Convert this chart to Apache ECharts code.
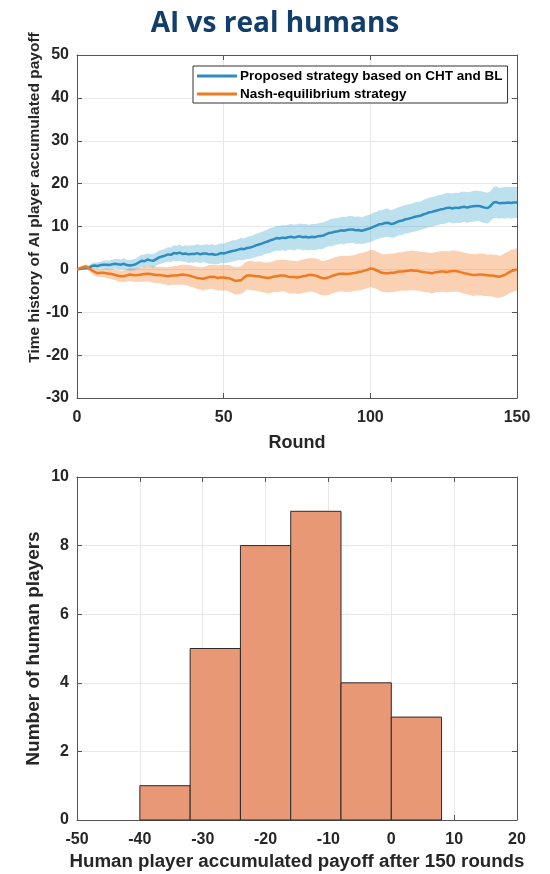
<!DOCTYPE html>
<html>
<head>
<meta charset="utf-8">
<script src="https://cdn.jsdelivr.net/npm/echarts@6/dist/echarts.min.js"></script>
<style>
  html, body { margin: 0; padding: 0; background: #ffffff; }
  #chart { width: 550px; height: 874px; }
</style>
</head>
<body>
<div id="chart"></div>
<script>
// Mean accumulated payoff of the AI player per round (0..150) and half-width of its shaded band
const blueMean = [
  0, 0.1, 0.2, 0.3, 0.3, 0.8, 0.9, 0.8, 1.0, 1.1,
  1.1, 1.0, 1.2, 1.3, 1.2, 1.1, 1.3, 1.0, 0.9, 1.0,
  1.2, 1.6, 2.0, 1.9, 2.3, 2.1, 2.0, 2.4, 2.8, 3.0,
  3.2, 3.5, 3.4, 3.8, 3.7, 3.9, 3.6, 3.7, 3.5, 3.6,
  3.6, 3.8, 3.5, 3.7, 3.7, 3.5, 3.6, 3.4, 3.5, 3.8,
  3.7, 3.9, 4.1, 4.3, 4.4, 4.6, 4.8, 4.7, 5.0, 5.1,
  5.3, 5.6, 5.8, 6.0, 6.3, 6.5, 6.8, 7.0, 7.3, 7.2,
  7.4, 7.3, 7.5, 7.6, 7.4, 7.6, 7.7, 7.5, 7.6, 7.4,
  7.6, 7.5, 7.7, 7.8, 7.9, 8.2, 8.5, 8.6, 8.8, 8.9,
  9.1, 9.0, 9.2, 9.3, 9.3, 9.1, 9.2, 9.0, 9.2, 9.4,
  9.6, 9.9, 10.2, 10.5, 10.6, 10.8, 10.9, 10.6, 10.7, 11.0,
  11.3, 11.4, 11.7, 11.8, 12.0, 12.2, 12.4, 12.5, 12.8, 13.0,
  13.3, 13.4, 13.6, 13.8, 14.0, 14.1, 14.3, 14.4, 14.2, 14.4,
  14.3, 14.5, 14.6, 14.4, 14.6, 14.7, 14.8, 14.8, 14.6, 14.4,
  14.3, 14.8, 15.6, 15.7, 15.4, 15.5, 15.5, 15.6, 15.5, 15.6,
  15.6
];
const blueHalf = [
  0.1, 0.2, 0.3, 0.4, 0.5, 0.6, 0.7, 0.8, 0.8, 0.9,
  1.0, 1.0, 1.1, 1.1, 1.2, 1.2, 1.3, 1.2, 1.3, 1.3,
  1.3, 1.4, 1.4, 1.5, 1.4, 1.5, 1.6, 1.5, 1.6, 1.6,
  1.6, 1.7, 1.7, 1.8, 1.8, 1.9, 1.8, 1.9, 2.0, 2.0,
  2.0, 2.1, 2.1, 2.0, 2.2, 2.2, 2.3, 2.2, 2.3, 2.3,
  2.3, 2.4, 2.4, 2.5, 2.4, 2.5, 2.6, 2.5, 2.6, 2.6,
  2.6, 2.7, 2.7, 2.8, 2.7, 2.8, 2.9, 2.8, 2.9, 2.9,
  2.9, 3.0, 2.9, 3.0, 3.0, 2.9, 3.0, 3.1, 3.0, 3.0,
  3.0, 3.1, 3.0, 3.1, 3.1, 3.0, 3.1, 3.2, 3.1, 3.1,
  3.1, 3.2, 3.1, 3.2, 3.1, 3.2, 3.2, 3.1, 3.2, 3.2,
  3.2, 3.3, 3.2, 3.3, 3.2, 3.3, 3.3, 3.2, 3.3, 3.3,
  3.3, 3.4, 3.3, 3.4, 3.3, 3.4, 3.4, 3.3, 3.4, 3.4,
  3.4, 3.5, 3.4, 3.5, 3.4, 3.5, 3.5, 3.4, 3.5, 3.5,
  3.5, 3.6, 3.5, 3.6, 3.5, 3.6, 3.6, 3.5, 3.6, 3.6,
  3.6, 3.5, 3.6, 3.7, 3.6, 3.6, 3.7, 3.6, 3.7, 3.6,
  3.6
];
// Same quantities for the Nash-equilibrium strategy
const orangeMean = [
  0, 0.3, 0.5, 0.7, 0.3, -0.2, -0.6, -0.9, -0.8, -0.8,
  -0.9, -1.0, -1.1, -1.3, -1.5, -1.6, -1.6, -1.4, -1.2, -1.3,
  -1.4, -1.3, -1.2, -1.1, -1.0, -1.1, -1.2, -1.3, -1.3, -1.4,
  -1.5, -1.6, -1.5, -1.4, -1.4, -1.3, -1.2, -1.3, -1.4, -1.6,
  -1.8, -2.0, -2.1, -2.2, -2.0, -1.8, -1.7, -1.8, -2.0, -1.9,
  -1.9, -2.0, -2.1, -2.4, -2.7, -2.6, -2.5, -1.9, -1.4, -1.4,
  -1.5, -1.6, -1.6, -1.8, -1.9, -2.0, -1.9, -1.7, -1.6, -1.5,
  -1.4, -1.5, -1.7, -1.8, -1.8, -1.9, -1.8, -1.6, -1.5, -1.3,
  -1.3, -1.4, -1.6, -1.9, -2.1, -2.0, -1.8, -1.5, -1.3, -1.1,
  -1.0, -1.0, -1.1, -1.0, -0.9, -0.8, -0.6, -0.5, -0.3, -0.1,
  0.2, 0.1, -0.2, -0.5, -0.8, -0.9, -0.9, -0.8, -0.8, -0.6,
  -0.5, -0.5, -0.4, -0.3, -0.2, -0.3, -0.3, -0.5, -0.6, -0.7,
  -0.8, -0.9, -0.7, -0.6, -0.5, -0.5, -0.6, -0.5, -0.4, -0.4,
  -0.5, -0.7, -0.9, -1.0, -1.2, -1.3, -1.3, -1.2, -1.2, -1.3,
  -1.4, -1.4, -1.5, -1.6, -1.7, -1.5, -1.2, -0.8, -0.4, -0.2,
  0.0
];
const orangeHalf = [
  0.1, 0.3, 0.4, 0.5, 0.6, 0.7, 0.8, 0.9, 0.9, 1.0,
  1.1, 1.1, 1.2, 1.2, 1.3, 1.3, 1.4, 1.4, 1.5, 1.5,
  1.6, 1.6, 1.7, 1.7, 1.8, 1.8, 1.9, 1.9, 1.9, 2.0,
  2.0, 2.1, 2.1, 2.2, 2.2, 2.3, 2.3, 2.4, 2.4, 2.5,
  2.5, 2.6, 2.6, 2.7, 2.7, 2.8, 2.8, 2.9, 2.9, 3.0,
  3.0, 3.0, 3.1, 3.1, 3.2, 3.2, 3.2, 3.3, 3.3, 3.4,
  3.4, 3.4, 3.5, 3.5, 3.5, 3.6, 3.6, 3.6, 3.7, 3.7,
  3.7, 3.7, 3.8, 3.8, 3.8, 3.8, 3.9, 3.9, 3.9, 3.9,
  3.9, 4.0, 4.0, 4.0, 4.0, 4.1, 4.1, 4.1, 4.1, 4.1,
  4.1, 4.2, 4.2, 4.2, 4.2, 4.2, 4.3, 4.3, 4.3, 4.3,
  4.3, 4.4, 4.4, 4.4, 4.4, 4.4, 4.5, 4.5, 4.5, 4.5,
  4.5, 4.5, 4.6, 4.6, 4.6, 4.6, 4.6, 4.6, 4.6, 4.7,
  4.6, 4.7, 4.7, 4.7, 4.7, 4.7, 4.8, 4.7, 4.8, 4.8,
  4.7, 4.8, 4.8, 4.8, 4.8, 4.9, 4.8, 4.9, 4.9, 4.9,
  4.8, 4.9, 4.9, 5.0, 4.9, 4.9, 5.0, 4.9, 5.0, 4.9,
  4.9
];

// Histogram of the human players' final payoff
const binEdges = [-40, -32, -24, -16, -8, 0, 8];
const binCounts = [1, 5, 8, 9, 4, 3];

const roundTicks = [0, 50, 100, 150];
const payoffTicks = [-50, -40, -30, -20, -10, 0, 10, 20];

const BLUE = '#2F8CBE';
const ORANGE = '#EF7A22';
const AXIS_COLOR = '#555555';
const TEXT_COLOR = '#262626';
const FONT = '"Liberation Sans", Arial, sans-serif';

const rounds = blueMean.map((_, i) => i);
const pairs = (arr) => arr.map((v, i) => [rounds[i], v]);

const tickLabel = { color: TEXT_COLOR, fontFamily: FONT, fontWeight: 'bold', fontSize: 16 };
const nameText = (size, extra) => Object.assign(
  { color: TEXT_COLOR, fontFamily: FONT, fontWeight: 'bold', fontSize: size }, extra || {});

function mainAxis(extra) {
  return Object.assign({
    type: 'value',
    nameMoveOverlap: false,
    axisLine: { show: true, onZero: false, lineStyle: { color: AXIS_COLOR, width: 1 } },
    axisTick: { show: true, inside: true, length: 5, lineStyle: { color: AXIS_COLOR } },
    axisLabel: tickLabel,
    splitLine: { show: true, lineStyle: { color: '#e8e8e8', width: 1 } }
  }, extra);
}
function mirrorAxis(extra) {
  return Object.assign({
    type: 'value',
    axisLine: { show: true, onZero: false, lineStyle: { color: AXIS_COLOR, width: 1 } },
    axisTick: { show: true, inside: true, length: 5, lineStyle: { color: AXIS_COLOR } },
    axisLabel: { show: false },
    splitLine: { show: false }
  }, extra);
}

// Shaded band (mean ± half-width) drawn as one polygon through the axis scales
function bandSeries(mean, half, color) {
  return {
    type: 'custom', xAxisIndex: 0, yAxisIndex: 0, silent: true, z: 1,
    data: rounds.map((r, i) => [r, mean[i] - half[i], mean[i] + half[i]]),
    encode: { x: 0, y: [1, 2] },
    renderItem: function (params, api) {
      if (params.dataIndex !== 0) return null;
      const pts = [];
      for (let i = 0; i < rounds.length; i++) pts.push(api.coord([rounds[i], mean[i] + half[i]]));
      for (let i = rounds.length - 1; i >= 0; i--) pts.push(api.coord([rounds[i], mean[i] - half[i]]));
      return { type: 'polygon', shape: { points: pts }, style: { fill: color } };
    }
  };
}

const histData = binCounts.map((c, i) => [binEdges[i], binEdges[i + 1], c]);

const option = {
  animation: false,
  backgroundColor: '#ffffff',
  title: {
    text: 'AI vs real humans',
    left: 'center', top: 5,
    textStyle: { fontFamily: '"Open Sans", sans-serif', fontWeight: 'bold', fontSize: 28, color: '#123E6B' }
  },
  legend: {
    data: ['Proposed strategy based on CHT and BL', 'Nash-equilibrium strategy'],
    orient: 'vertical', left: 193, top: 66,
    icon: 'rect', itemWidth: 40, itemHeight: 3, itemGap: 4,
    backgroundColor: '#ffffff', borderColor: '#333333', borderWidth: 1,
    padding: [3, 5, 2, 4], borderRadius: 0,
    textStyle: { fontFamily: FONT, fontWeight: 'bold', fontSize: 13.5, color: '#000000', padding: [0, 0, 0, -2] }
  },
  grid: [
    { left: 77, right: 33, top: 55, height: 343 },
    { left: 77, right: 33, top: 477, height: 343 }
  ],
  xAxis: [
    mainAxis({ gridIndex: 0, min: 0, max: 150, interval: 50, position: 'bottom',
      name: 'Round', nameLocation: 'middle', nameGap: 36, nameTextStyle: nameText(18),
      axisLabel: Object.assign({}, tickLabel, { margin: 12,
        formatter: v => roundTicks.includes(v) ? String(v) : '' }) }),
    mirrorAxis({ gridIndex: 0, min: 0, max: 150, interval: 50, position: 'top' }),
    mainAxis({ gridIndex: 1, min: -50, max: 20, interval: 10, position: 'bottom',
      name: 'Human player accumulated payoff after 150 rounds', nameLocation: 'middle', nameGap: 32,
      nameTextStyle: nameText(18.7),
      axisLabel: Object.assign({}, tickLabel, { margin: 12,
        formatter: v => payoffTicks.includes(v) ? String(v) : '' }) }),
    mirrorAxis({ gridIndex: 1, min: -50, max: 20, interval: 10, position: 'top' })
  ],
  yAxis: [
    mainAxis({ gridIndex: 0, min: -30, max: 50, interval: 10, position: 'left',
      name: 'Time history of AI player accumulated payoff', nameLocation: 'middle', nameGap: 34,
      nameTextStyle: nameText(15.5, { padding: [0, 0, 0, 58] }),
      axisLabel: Object.assign({}, tickLabel, { margin: 8 }) }),
    mirrorAxis({ gridIndex: 0, min: -30, max: 50, interval: 10, position: 'right' }),
    mainAxis({ gridIndex: 1, min: 0, max: 10, interval: 2, position: 'left',
      name: 'Number of human players', nameLocation: 'middle', nameGap: 34,
      nameTextStyle: nameText(19),
      axisLabel: Object.assign({}, tickLabel, { margin: 8 }) }),
    mirrorAxis({ gridIndex: 1, min: 0, max: 10, interval: 2, position: 'right' })
  ],
  series: [
    bandSeries(orangeMean, orangeHalf, 'rgba(240,122,34,0.35)'),
    bandSeries(blueMean, blueHalf, 'rgba(76,170,212,0.37)'),
    {
      name: 'Proposed strategy based on CHT and BL', type: 'line',
      xAxisIndex: 0, yAxisIndex: 0, symbol: 'none',
      lineStyle: { color: BLUE, width: 2.5 }, itemStyle: { color: BLUE },
      data: pairs(blueMean), z: 3
    },
    {
      name: 'Nash-equilibrium strategy', type: 'line',
      xAxisIndex: 0, yAxisIndex: 0, symbol: 'none',
      lineStyle: { color: ORANGE, width: 2.5 }, itemStyle: { color: ORANGE },
      data: pairs(orangeMean), z: 3
    },
    {
      name: 'histogram', type: 'custom', xAxisIndex: 2, yAxisIndex: 2,
      encode: { x: [0, 1], y: 2 },
      data: histData,
      renderItem: function (params, api) {
        const p0 = api.coord([api.value(0), 0]);
        const p1 = api.coord([api.value(1), api.value(2)]);
        return {
          type: 'rect',
          shape: { x: p0[0], y: p1[1], width: p1[0] - p0[0], height: p0[1] - p1[1] },
          style: { fill: '#E89875', stroke: '#2b2b2b', lineWidth: 1 }
        };
      }
    }
  ]
};

const chart = echarts.init(document.getElementById('chart'), null, { renderer: 'canvas' });
chart.setOption(option);
</script>
</body>
</html>
